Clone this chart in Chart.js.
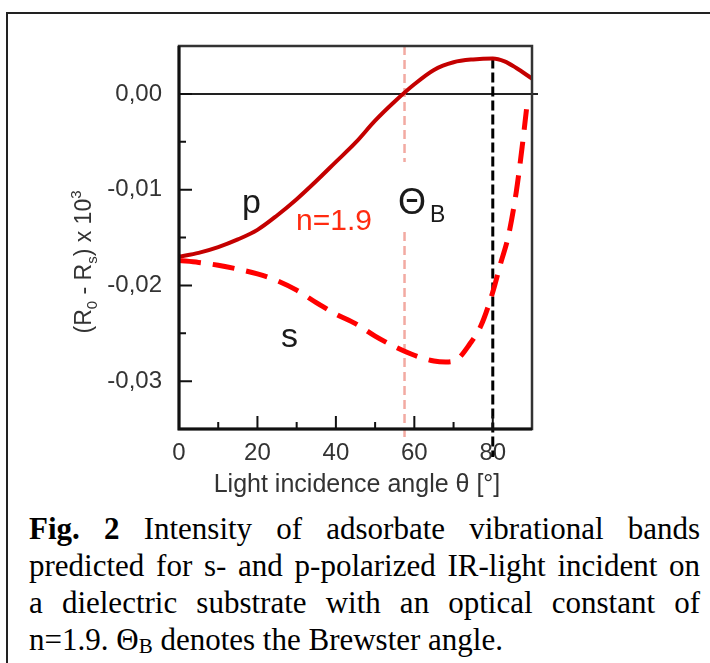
<!DOCTYPE html>
<html>
<head>
<meta charset="utf-8">
<script src="https://cdn.jsdelivr.net/npm/chart.js@4.4.0/dist/chart.umd.min.js"></script>
<style>
  html, body { margin: 0; padding: 0; background: #fff; }
  body { width: 710px; height: 663px; position: relative; overflow: hidden; }
  .frame { position: absolute; left: 6px; top: 12px; width: 800px; height: 800px; border: 2px solid #222; }
  #chart { position: absolute; left: 0; top: 0; }
  .caption { position: absolute; left: 29px; top: 510px; width: 671px;
             font-family: "Liberation Serif", "Times New Roman", serif; font-size: 31px; line-height: 37px; color: #000; }
  .caption div { white-space: nowrap; }
  .caption .full { text-align: justify; text-align-last: justify; white-space: normal; }
  .caption sub { font-size: 21px; line-height: 0; vertical-align: -3px; }
</style>
</head>
<body>
<div class="frame"></div>
<canvas id="chart" width="710" height="500"></canvas>
<div class="caption">
  <div class="full"><b>Fig. 2</b> Intensity of adsorbate vibrational bands</div>
  <div class="full">predicted for s- and p-polarized IR-light incident on</div>
  <div class="full">a dielectric substrate with an optical constant of</div>
  <div>n=1.9. Θ<sub>B</sub> denotes the Brewster angle.</div>
</div>
<script>
// Data
const pAngles = [0, 5, 10, 15, 20, 25, 30, 35, 40, 45, 50, 55, 60, 65, 70, 75, 80, 83, 86, 90];
const pSignal = [-0.0170, -0.0166, -0.0160, -0.0152, -0.0142, -0.0127, -0.0110, -0.0091, -0.0071, -0.0051,
                 -0.0028, -0.0008, 0.0010, 0.0025, 0.0033, 0.0036, 0.0037, 0.0034, 0.0027, 0.0016];
const sAngles = [0, 5, 10, 15, 20, 25, 30, 35, 40, 45, 50, 55, 60, 65, 68, 71, 74, 77, 80, 82, 84, 86, 87.5, 88.6];
const sSignal = [-0.0174, -0.0176, -0.0179, -0.0183, -0.0188, -0.0195, -0.0205, -0.0218, -0.0230, -0.0240,
                 -0.0253, -0.0264, -0.0273, -0.0279, -0.0280, -0.0277, -0.0262, -0.0242, -0.0207, -0.0177,
                 -0.0148, -0.0102, -0.0055, -0.0016];

const xTicks = [0, 20, 40, 60, 80];
const xMinorTicks = [10, 30, 50, 70];
const yTicks = [-0.03, -0.02, -0.01, 0];
const yMinorTicks = [-0.025, -0.015, -0.005];

const brewsterAngle = 57.5;
const markerAngle = 80;

const sans = '"Liberation Sans", Arial, sans-serif';

// Frame, inside ticks, reference lines and annotations
const figureDecor = {
    id: 'figureDecor',
    beforeDatasetsDraw(chart) {
        const { ctx, chartArea: a, scales: { x, y } } = chart;
        ctx.save();

        // zero line
        const y0 = y.getPixelForValue(0);
        ctx.strokeStyle = '#222';
        ctx.lineWidth = 2;
        ctx.beginPath();
        ctx.moveTo(a.left, y0);
        ctx.lineTo(a.right + 6, y0);
        ctx.stroke();

        // Brewster angle line (gap around the label)
        const xb = x.getPixelForValue(brewsterAngle);
        ctx.strokeStyle = '#f2aaa2';
        ctx.lineWidth = 2.5;
        ctx.setLineDash([9, 5]);
        ctx.beginPath();
        ctx.moveTo(xb, a.top);
        ctx.lineTo(xb, 162);
        ctx.moveTo(xb, 232);
        ctx.lineTo(xb, a.bottom + 9);
        ctx.stroke();

        // black dashed line at 80 deg
        const xm = x.getPixelForValue(markerAngle);
        const peak = pSignal[pAngles.indexOf(markerAngle)];
        ctx.strokeStyle = '#000';
        ctx.lineWidth = 3;
        ctx.setLineDash([10, 4]);
        ctx.beginPath();
        ctx.moveTo(xm, y.getPixelForValue(peak));
        ctx.lineTo(xm, a.bottom + 28);
        ctx.stroke();
        ctx.restore();
    },
    afterDatasetsDraw(chart) {
        const { ctx, chartArea: a, scales: { x, y } } = chart;
        ctx.save();

        // frame
        ctx.strokeStyle = '#333';
        ctx.lineWidth = 2.5;
        ctx.strokeRect(a.left, a.top, a.right - a.left, a.bottom - a.top);
        ctx.strokeStyle = '#111';
        ctx.lineWidth = 3;
        ctx.beginPath();
        ctx.moveTo(a.left, a.top);
        ctx.lineTo(a.left, a.bottom);
        ctx.lineTo(a.right, a.bottom);
        ctx.stroke();

        // inside ticks
        ctx.lineWidth = 2;
        ctx.beginPath();
        yTicks.forEach(v => { const py = y.getPixelForValue(v); ctx.moveTo(a.left, py); ctx.lineTo(a.left + 13, py); });
        yMinorTicks.forEach(v => { const py = y.getPixelForValue(v); ctx.moveTo(a.left, py); ctx.lineTo(a.left + 7, py); });
        xTicks.forEach(v => { const px = x.getPixelForValue(v); ctx.moveTo(px, a.bottom); ctx.lineTo(px, a.bottom - 13); });
        xMinorTicks.forEach(v => { const px = x.getPixelForValue(v); ctx.moveTo(px, a.bottom); ctx.lineTo(px, a.bottom - 7); });
        ctx.stroke();

        // curve labels
        ctx.textBaseline = 'alphabetic';
        ctx.textAlign = 'left';
        ctx.fillStyle = '#1a1a1a';
        ctx.font = '34px ' + sans;
        ctx.fillText('p', 242, 213);
        ctx.fillText('s', 281, 347);

        ctx.fillStyle = '#ff2b10';
        ctx.font = '30px ' + sans;
        ctx.fillText('n=1.9', 296, 230);

        ctx.fillStyle = '#1a1a1a';
        ctx.font = '36px ' + sans;
        ctx.fillText('Θ', 398, 214);
        ctx.font = '23px ' + sans;
        ctx.fillText('B', 430, 222);

        // x axis title
        ctx.fillStyle = '#333';
        ctx.textAlign = 'center';
        ctx.textBaseline = 'middle';
        ctx.font = '25px ' + sans;
        ctx.fillText('Light incidence angle θ [°]', 357, 485);

        // y axis title, rotated, with sub/superscripts
        const parts = [
            ['(R', 23, 0], ['0', 15, 6], [' - R', 23, 0], ['s', 15, 6], [') x 10', 23, 0], ['3', 15, -10]
        ];
        let total = 0;
        parts.forEach(([t, s]) => { ctx.font = s + 'px ' + sans; total += ctx.measureText(t).width; });
        ctx.translate(91, 262);
        ctx.rotate(-Math.PI / 2);
        ctx.textAlign = 'left';
        ctx.textBaseline = 'alphabetic';
        let cx = -total / 2;
        parts.forEach(([t, s, dy]) => {
            ctx.font = s + 'px ' + sans;
            ctx.fillText(t, cx, dy);
            cx += ctx.measureText(t).width;
        });
        ctx.restore();
    }
};

const chart = new Chart(document.getElementById('chart'), {
    type: 'line',
    data: {
        datasets: [{
            label: 's',
            data: sAngles.map((a, i) => ({ x: a, y: sSignal[i] })),
            borderColor: '#ff0000',
            borderWidth: 5,
            borderDash: [22, 12],
            pointRadius: 0,
            cubicInterpolationMode: 'monotone'
        }, {
            label: 'p',
            data: pAngles.map((a, i) => ({ x: a, y: pSignal[i] })),
            borderColor: '#c40000',
            borderWidth: 4,
            pointRadius: 0,
            cubicInterpolationMode: 'monotone'
        }]
    },
    options: {
        responsive: false,
        animation: false,
        layout: { padding: { top: 46, right: 178, left: 0, bottom: 0 } },
        plugins: { legend: { display: false }, tooltip: { enabled: false } },
        scales: {
            x: {
                type: 'linear',
                min: 0,
                max: 90,
                afterBuildTicks: s => { s.ticks = xTicks.map(v => ({ value: v })); },
                afterFit: s => { s.height = 71; },
                grid: { display: false, drawTicks: false },
                border: { display: false },
                ticks: {
                    padding: 10,
                    color: '#333',
                    font: { family: sans, size: 24 }
                }
            },
            y: {
                min: -0.035,
                max: 0.005,
                afterBuildTicks: s => { s.ticks = yTicks.map(v => ({ value: v })); },
                afterFit: s => { s.width = 179; },
                grid: { display: false, drawTicks: false },
                border: { display: false },
                ticks: {
                    padding: 17,
                    color: '#333',
                    font: { family: sans, size: 24 },
                    callback: v => v.toFixed(2).replace('.', ',')
                }
            }
        }
    },
    plugins: [figureDecor]
});
</script>
</body>
</html>
